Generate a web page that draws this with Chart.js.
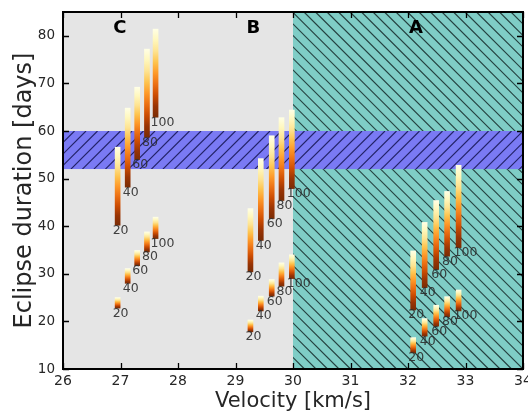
<!DOCTYPE html>
<html><head><meta charset="utf-8">
<script src="https://cdn.jsdelivr.net/npm/chart.js@4.4.0/dist/chart.umd.min.js"></script>
<style>html,body{margin:0;padding:0;background:#fff}#wrap{width:528px;height:412px;position:relative}</style>
</head><body><div id="wrap"><canvas id="c" width="528" height="412"></canvas></div>
<script>
// ---- data ----
const sizeLabels = ['20', '40', '60', '80', '100'];
const cX = [26.95, 27.125, 27.29, 27.46, 27.61];
const cUpperLow = [40.2, 48.2, 54.0, 58.7, 62.9];
const cUpperHigh = [56.6, 64.8, 69.2, 77.2, 81.4];
const cLowerLow = [22.8, 28.0, 31.7, 34.6, 37.4];
const cLowerHigh = [25.0, 31.1, 34.9, 38.8, 41.9];
const bX = [29.26, 29.44, 29.63, 29.80, 29.98];
const bUpperLow = [30.4, 37.0, 41.6, 45.4, 47.9];
const bUpperHigh = [43.7, 54.2, 59.0, 62.8, 64.4];
const bLowerLow = [17.8, 22.2, 25.3, 27.4, 29.0];
const bLowerHigh = [20.3, 25.3, 28.8, 32.3, 34.0];
const aX = [32.09, 32.29, 32.49, 32.68, 32.88];
const aUpperLow = [22.4, 27.1, 30.9, 33.7, 35.5];
const aUpperHigh = [34.8, 40.8, 45.4, 47.3, 52.8];
const aLowerLow = [13.4, 16.9, 19.0, 21.0, 22.2];
const aLowerHigh = [16.6, 20.6, 23.4, 25.2, 26.6];
const groupLetters = ['C', 'B', 'A'];
const groupLetterX = [26.99, 29.31, 32.14];
const groupLetterY = 81.5;
const xTicks = [26, 27, 28, 29, 30, 31, 32, 33, 34];
const yTicks = [10, 20, 30, 40, 50, 60, 70, 80];
const xRange = [26, 34];
const yRange = [10, 85];
const greyRegion = [26, 30];
const tealRegion = [30, 34];
const bandRange = [52, 60];
const xTitle = 'Velocity [km/s]';
const yTitle = 'Eclipse duration [days]';

// ---- build ----
function series(xs, lo, hi) { return xs.map((x, i) => ({x: x, y: [lo[i], hi[i]]})); }
const rows = [
  series(cX, cUpperLow, cUpperHigh), series(cX, cLowerLow, cLowerHigh),
  series(bX, bUpperLow, bUpperHigh), series(bX, bLowerLow, bLowerHigh),
  series(aX, aUpperLow, aUpperHigh), series(aX, aLowerLow, aLowerHigh)
];
const cmapStops = ['#7a2c05', '#993404', '#cc4c02', '#ec7014', '#fe9929', '#fec44f', '#fee391', '#fff7bc', '#ffffe5'];
function barFill(ctx) {
  const chart = ctx.chart; const ys = chart.scales && chart.scales.y;
  if (ctx.type !== 'data' || !ys || !ctx.raw) return '#fe9929';
  const v = ctx.raw.y;
  const p0 = ys.getPixelForValue(v[0]), p1 = ys.getPixelForValue(v[1]);
  if (!isFinite(p0) || !isFinite(p1) || p0 === p1) return '#fe9929';
  const g = chart.ctx.createLinearGradient(0, p0, 0, p1);
  cmapStops.forEach((c, i) => g.addColorStop(i / (cmapStops.length - 1), c));
  return g;
}

function hatch(ctx, x0, y0, x1, y1, spacing, dir, color, lw) {
  ctx.save();
  ctx.beginPath(); ctx.rect(x0, y0, x1 - x0, y1 - y0); ctx.clip();
  ctx.strokeStyle = color; ctx.lineWidth = lw;
  ctx.beginPath();
  const h = y1 - y0;
  for (let c = x0 - h - spacing * 2; c < x1 + h + spacing; c += spacing) {
    if (dir === '\\') { ctx.moveTo(c, y0); ctx.lineTo(c + h, y1); }
    else { ctx.moveTo(c, y1); ctx.lineTo(c + h, y0); }
  }
  ctx.stroke();
  ctx.restore();
}

const decor = {
  id: 'decor',
  beforeDatasetsDraw(chart) {
    const {ctx, scales: {x, y}, chartArea: a} = chart;
    ctx.save();
    const gx0 = x.getPixelForValue(greyRegion[0]), gx1 = x.getPixelForValue(greyRegion[1]);
    ctx.fillStyle = '#e5e5e5';
    ctx.fillRect(gx0, a.top, gx1 - gx0, a.bottom - a.top);
    const tx0 = x.getPixelForValue(tealRegion[0]), tx1 = x.getPixelForValue(tealRegion[1]);
    ctx.fillStyle = '#7fcdc6';
    ctx.fillRect(tx0, a.top, tx1 - tx0, a.bottom - a.top);
    hatch(ctx, tx0, a.top, tx1, a.bottom, 11.5, '\\', 'rgba(20,40,40,0.85)', 1.2);
    const by0 = y.getPixelForValue(bandRange[1]), by1 = y.getPixelForValue(bandRange[0]);
    ctx.fillStyle = '#7a7af4';
    ctx.fillRect(a.left, by0, a.right - a.left, by1 - by0);
    hatch(ctx, a.left, by0, a.right, by1, 11.5, '/', 'rgba(20,20,80,0.85)', 1.2);
    ctx.restore();
  },
  afterDatasetsDraw(chart) {
    const {ctx, scales: {x, y}, chartArea: a} = chart;
    ctx.save();
    // bar labels
    ctx.font = '12.5px "DejaVu Sans"';
    ctx.fillStyle = 'rgba(45,45,45,0.9)';
    ctx.textAlign = 'left'; ctx.textBaseline = 'top';
    chart.data.datasets.forEach(ds => {
      ds.data.forEach((d, i) => {
        ctx.fillText(sizeLabels[i], x.getPixelForValue(d.x) - 5, y.getPixelForValue(d.y[0]) - 1);
      });
    });
    // letters
    ctx.font = 'bold 18px "DejaVu Sans"';
    ctx.fillStyle = '#000';
    ctx.textAlign = 'center'; ctx.textBaseline = 'middle';
    groupLetters.forEach((l, i) => ctx.fillText(l, x.getPixelForValue(groupLetterX[i]), y.getPixelForValue(groupLetterY)));
    // ticks
    ctx.strokeStyle = '#000'; ctx.lineWidth = 1.3;
    ctx.beginPath();
    xTicks.forEach(v => {
      const px = Math.round(x.getPixelForValue(v)) + 0.5;
      ctx.moveTo(px, a.bottom); ctx.lineTo(px, a.bottom - 6);
      ctx.moveTo(px, a.top); ctx.lineTo(px, a.top + 6);
    });
    yTicks.forEach(v => {
      const py = Math.round(y.getPixelForValue(v)) + 0.5;
      ctx.moveTo(a.left, py); ctx.lineTo(a.left + 6, py);
      ctx.moveTo(a.right, py); ctx.lineTo(a.right - 6, py);
    });
    ctx.stroke();
    // frame
    ctx.lineWidth = 2;
    ctx.strokeRect(a.left, a.top, a.right - a.left, a.bottom - a.top);
    ctx.restore();
  }
};

Chart.defaults.font.family = '"DejaVu Sans"';
Chart.defaults.color = '#262626';

new Chart(document.getElementById('c'), {
  type: 'bar',
  data: {
    datasets: rows.map(r => ({
      data: r, backgroundColor: barFill, borderWidth: 0, barThickness: 5, grouped: false
    }))
  },
  options: {
    responsive: false, animation: false,
    layout: {padding: {top: 12, right: 5, left: 0, bottom: 0}},
    plugins: {legend: {display: false}, tooltip: {enabled: false}},
    scales: {
      x: {
        type: 'linear', min: xRange[0], max: xRange[1], offset: false,
        grid: {display: false, drawTicks: false}, border: {display: false},
        afterBuildTicks: s => { s.ticks = xTicks.map(v => ({value: v})); },
        afterFit: s => { s.height = 43; s.paddingLeft = 0; s.paddingRight = 0; },
        ticks: {font: {size: 14}, padding: 4, maxRotation: 0, autoSkip: false, color: '#262626'},
        title: {display: true, text: xTitle, font: {size: 21, lineHeight: 1.0}, padding: {top: 0, bottom: 0}, color: '#262626'}
      },
      y: {
        type: 'linear', min: yRange[0], max: yRange[1],
        grid: {display: false, drawTicks: false}, border: {display: false},
        afterBuildTicks: s => { s.ticks = yTicks.map(v => ({value: v})); },
        afterFit: s => { s.width = 63; s.paddingTop = 0; s.paddingBottom = 0; },
        ticks: {font: {size: 13.5}, padding: 8, autoSkip: false, color: '#262626'},
        title: {display: true, text: yTitle, font: {size: 24, lineHeight: 1.2}, padding: {top: 10.5, bottom: 0}, color: '#262626'}
      }
    }
  },
  plugins: [decor]
});
</script></body></html>
